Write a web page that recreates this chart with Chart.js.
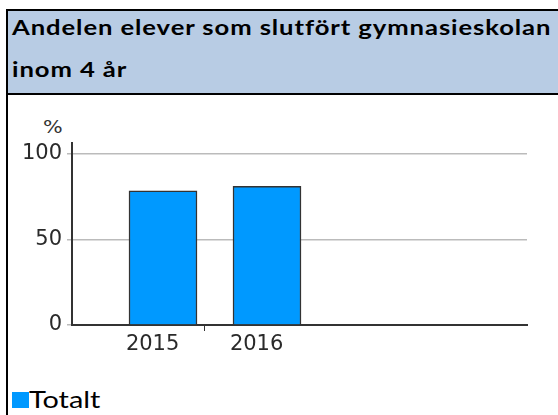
<!DOCTYPE html>
<html>
<head>
<meta charset="utf-8">
<script src="https://cdn.jsdelivr.net/npm/chart.js@4"></script>
<style>
  html, body { margin: 0; padding: 0; background: #fff; }
  body { width: 558px; height: 415px; position: relative; overflow: hidden; }
  #ram { position: absolute; left: 6px; top: 9px; width: 600px; height: 420px; border-left: 2px solid #000; }
  #rubrik {
    position: absolute; left: 6px; top: 9px; width: 600px; height: 86px;
    background: #b8cce4; border-top: 2px solid #000; border-bottom: 2px solid #000; border-left: 2px solid #000;
    box-sizing: border-box;
  }
  #rubriktext {
    position: absolute; left: 12px; top: 6px; white-space: nowrap;
    font-family: Lato, sans-serif; font-weight: bold; font-size: 21px; line-height: 42px; color: #000;
    letter-spacing: 0.75px; transform: scaleX(1.22); transform-origin: 0 0;
  }
  #procent { position: absolute; left: 43px; top: 116px; font: 18px "DejaVu Sans", sans-serif; color: #333; transform: scaleX(1.15); transform-origin: 0 0; }
  #diagram { position: absolute; left: 0; top: 100px; width: 558px; height: 270px; }
  #forklaring { position: absolute; left: 12px; top: 384px; white-space: nowrap; }
  #forklaring span { display: inline-block; width: 17px; height: 16px; background: #0099ff; vertical-align: top; margin-top: 8px; }
  #forklaring b {
    display: inline-block; font-weight: normal; font-family: Lato, sans-serif; font-size: 24px; color: #000;
    transform: scaleX(1.2); transform-origin: 0 0;
  }
</style>
</head>
<body>
<div id="ram"></div>
<div id="rubrik"></div>
<div id="rubriktext">Andelen elever som slutfört gymnasieskolan<br>inom 4 år</div>
<div id="procent">%</div>
<div id="diagram"><canvas id="graf"></canvas></div>
<div id="forklaring"><span></span><b>Totalt</b></div>

<script>
// Data
const ar = [2015, 2016];
const totalt = [78.5, 81];
const yTicks = [0, 50, 100];
const serieNamn = 'Totalt';

// etiketterna sitter lite till vänster om staplarnas mitt i originalet
const etikettForskjutning = 0.1;
const etikettLagen = ar.map(a => a - etikettForskjutning);
const mittMarkering = (etikettLagen[0] + etikettLagen[1]) / 2;

function etikett(v) {
  const i = etikettLagen.findIndex(p => Math.abs(p - v) < 0.001);
  return i >= 0 ? String(ar[i]) : '';
}

Chart.defaults.font.family = '"DejaVu Sans", sans-serif';
Chart.defaults.font.size = 21;
Chart.defaults.color = '#2a2a2a';

const ctx = document.getElementById('graf').getContext('2d');
new Chart(ctx, {
  type: 'bar',
  data: {
    datasets: [{
      label: serieNamn,
      data: ar.map((a, i) => ({ x: a, y: totalt[i] })),
      backgroundColor: '#0099ff',
      borderColor: '#333',
      borderWidth: 1.5,
      barThickness: 68
    }]
  },
  options: {
    responsive: true,
    maintainAspectRatio: false,
    animation: false,
    layout: { padding: { top: 43, right: 31, left: 0, bottom: 0 } },
    plugins: { legend: { display: false }, tooltip: { enabled: false } },
    scales: {
      x: {
        type: 'linear',
        offset: false,
        min: 2014.125,
        max: 2018.5,
        afterBuildTicks: s => { s.ticks = [...etikettLagen, mittMarkering].map(v => ({ value: v })); },
        afterFit: s => { s.height = 45; },
        ticks: {
          autoSkip: false,
          maxRotation: 0,
          padding: 1,
          callback: v => etikett(v)
        },
        grid: {
          offset: false,
          drawOnChartArea: false,
          tickLength: 6,
          tickColor: c => (c.tick && Math.abs(c.tick.value - mittMarkering) < 0.001) ? '#333' : 'rgba(0,0,0,0)'
        },
        border: { color: '#333', width: 2 }
      },
      y: {
        min: 0,
        max: 106.4,
        afterBuildTicks: s => { s.ticks = yTicks.map(v => ({ value: v })); },
        afterFit: s => { s.width = 72; },
        ticks: { padding: 5 },
        grid: { color: '#bbb', lineWidth: 1.5, tickLength: 5 },
        border: { color: '#333', width: 2 }
      }
    }
  }
});
</script>
</body>
</html>
